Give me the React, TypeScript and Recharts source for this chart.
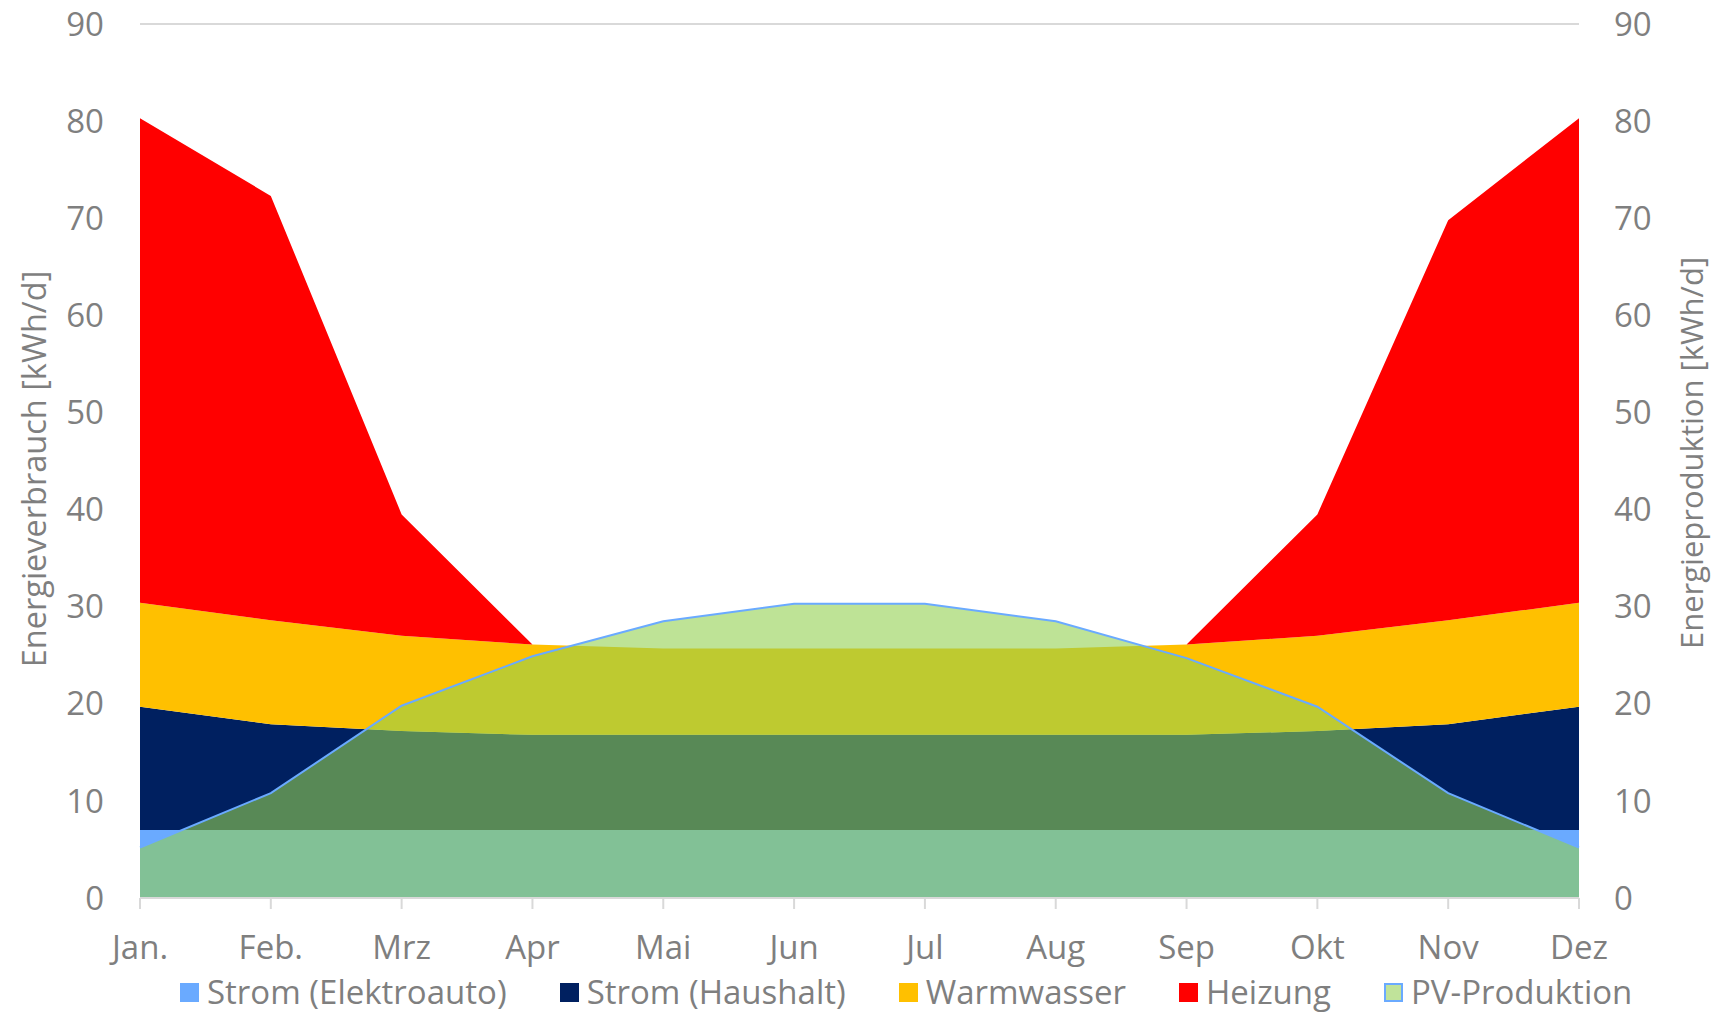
import React from 'react';
import { AreaChart, Area, XAxis, YAxis, CartesianGrid, Legend } from 'recharts';

const months = ['Jan.', 'Feb.', 'Mrz', 'Apr', 'Mai', 'Jun', 'Jul', 'Aug', 'Sep', 'Okt', 'Nov', 'Dez'];
const stromElektroauto = [7, 7, 7, 7, 7, 7, 7, 7, 7, 7, 7, 7];
const stromHaushalt = [12.7, 10.9, 10.2, 9.8, 9.8, 9.8, 9.8, 9.8, 9.8, 10.2, 10.9, 12.7];
const warmwasser = [10.7, 10.7, 9.8, 9.3, 8.9, 8.9, 8.9, 8.9, 9.3, 9.8, 10.7, 10.7];
const heizung = [49.9, 43.7, 12.5, 0, 0, 0, 0, 0, 0, 12.5, 41.2, 49.9];
const pvProduktion = [5.2, 10.8, 19.8, 24.9, 28.5, 30.3, 30.3, 28.5, 24.7, 19.7, 10.8, 5.2];
const yTicks = [0, 10, 20, 30, 40, 50, 60, 70, 80, 90];

const data = months.map((m, i) => ({
  month: m,
  elektro: stromElektroauto[i],
  haushalt: stromHaushalt[i],
  warm: warmwasser[i],
  heiz: heizung[i],
  pv: pvProduktion[i],
}));

const FONT = '"Open Sans", Calibri, sans-serif';
const GRAY = '#7f7f7f';
const FS = 33;

const legendItems = [
  { name: 'Strom (Elektroauto)', color: '#6aaaff', border: '#6aaaff' },
  { name: 'Strom (Haushalt)', color: '#002060', border: '#002060' },
  { name: 'Warmwasser', color: '#ffc000', border: '#ffc000' },
  { name: 'Heizung', color: '#ff0000', border: '#ff0000' },
  { name: 'PV-Produktion', color: '#c0e39a', border: '#6aaaff' },
];

const renderLegend = () => (
  <div
    style={{
      display: 'flex',
      alignItems: 'center',
      paddingLeft: 180,
      paddingTop: 4,
      height: 40,
      fontFamily: FONT,
      fontSize: FS,
      color: GRAY,
      lineHeight: '40px',
      whiteSpace: 'nowrap',
    }}
  >
    {legendItems.map((it) => (
      <div key={it.name} style={{ display: 'flex', alignItems: 'center', marginRight: 53 }}>
        <span
          style={{
            display: 'inline-block',
            width: 19,
            height: 19,
            background: it.color,
            border: `2px solid ${it.border}`,
            boxSizing: 'border-box',
            marginRight: 8,
          }}
        />
        <span>{it.name}</span>
      </div>
    ))}
  </div>
);

const AxisLabel = ({ viewBox, value, offsetX, offsetY, size }: any) => {
  const x = viewBox.x + offsetX;
  const y = viewBox.y + viewBox.height / 2 + offsetY;
  return (
    <text
      x={x}
      y={y}
      transform={`rotate(-90, ${x}, ${y})`}
      textAnchor="middle"
      dominantBaseline="central"
      fill={GRAY}
      fontFamily={FONT}
      fontSize={size}
    >
      {value}
    </text>
  );
};

export default function App() {
  return (
    <div style={{ position: 'absolute', left: 0, top: 0, background: '#fff' }}>
      <AreaChart
        width={1713}
        height={1014}
        data={data}
        margin={{ top: 24, right: 0, bottom: 0, left: 0 }}
      >
        <CartesianGrid horizontal vertical={false} stroke="#d9d9d9" strokeWidth={2} />
        <XAxis
          dataKey="month"
          height={70}
          stroke="#d9d9d9"
          strokeWidth={2}
          tickSize={11}
          tickMargin={27}
          tick={{ fill: GRAY, fontSize: FS, fontFamily: FONT }}
          interval={0}
        />
        <YAxis
          yAxisId="left"
          orientation="left"
          width={140}
          domain={[0, 90]}
          ticks={yTicks}
          axisLine={false}
          tickLine={false}
          tickSize={0}
          tickMargin={36}
          tick={{ fill: GRAY, fontSize: FS, fontFamily: FONT }}
          label={<AxisLabel value="Energieverbrauch [kWh/d]" offsetX={33} offsetY={8} size={32.5} />}
        />
        <YAxis
          yAxisId="right"
          orientation="right"
          width={134}
          domain={[0, 90]}
          ticks={yTicks}
          axisLine={false}
          tickLine={false}
          tickSize={0}
          tickMargin={35}
          tick={{ fill: GRAY, fontSize: FS, fontFamily: FONT }}
          label={<AxisLabel value="Energieproduktion [kWh/d]" offsetX={112} offsetY={-8} size={31} />}
        />
        <Legend verticalAlign="bottom" height={46} content={renderLegend} />
        <Area
          yAxisId="left"
          type="linear"
          dataKey="elektro"
          name="Strom (Elektroauto)"
          stackId="v"
          fill="#6aaaff"
          fillOpacity={1}
          stroke="none"
          isAnimationActive={false}
        />
        <Area
          yAxisId="left"
          type="linear"
          dataKey="haushalt"
          name="Strom (Haushalt)"
          stackId="v"
          fill="#002060"
          fillOpacity={1}
          stroke="none"
          isAnimationActive={false}
        />
        <Area
          yAxisId="left"
          type="linear"
          dataKey="warm"
          name="Warmwasser"
          stackId="v"
          fill="#ffc000"
          fillOpacity={1}
          stroke="none"
          isAnimationActive={false}
        />
        <Area
          yAxisId="left"
          type="linear"
          dataKey="heiz"
          name="Heizung"
          stackId="v"
          fill="#ff0000"
          fillOpacity={1}
          stroke="none"
          isAnimationActive={false}
        />
        <Area
          yAxisId="right"
          type="linear"
          dataKey="pv"
          name="PV-Produktion"
          fill="#92d050"
          fillOpacity={0.6}
          stroke="#6aaaff"
          strokeWidth={2}
          isAnimationActive={false}
        />
      </AreaChart>
    </div>
  );
}
